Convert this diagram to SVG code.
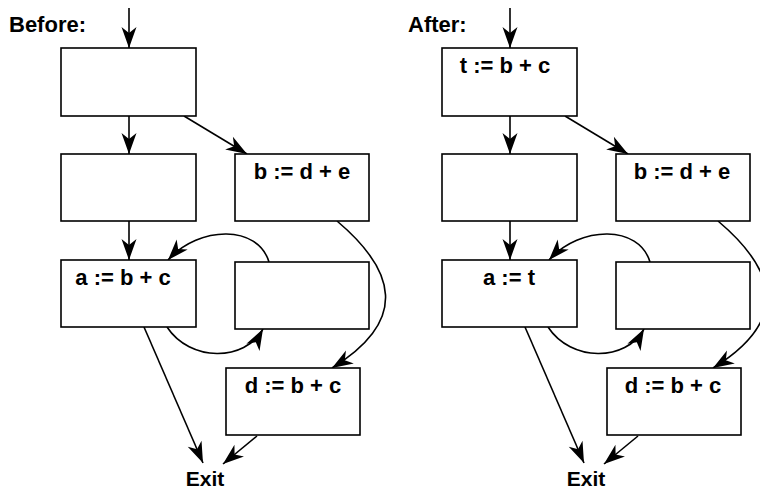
<svg xmlns="http://www.w3.org/2000/svg" width="760" height="490" viewBox="0 0 760 490">
<defs>
<marker id="ah" markerUnits="userSpaceOnUse" markerWidth="24" markerHeight="20" viewBox="-22 -10 24 20" refX="0" refY="0" orient="auto">
<path d="M0,0 L-21,-7.5 L-15,0 L-21,7.5 Z" fill="#000"/>
</marker>
<style>
.box{fill:#fff;stroke:#000;stroke-width:1.6}
.e{fill:none;stroke:#000;stroke-width:1.6;marker-end:url(#ah)}
.t{font-family:"Liberation Sans",Arial,sans-serif;font-weight:bold;font-size:22px;fill:#000}
.m{text-anchor:middle}
</style>
</defs>
<rect width="760" height="490" fill="#fff"/>
<text class="t" x="9" y="32">Before:</text>
<text class="t" x="408" y="32">After:</text>
<g id="connectors">
<path class="e" d="M129,8 L129,48"/>
<path class="e" d="M129,116 L129,154"/>
<path class="e" d="M184,116 L247,154"/>
<path class="e" d="M129,221 L129,260"/>
<path class="e" d="M269,262 C258,225 200,225 168,260"/>
<path class="e" d="M167,327 C190,362 245,362 263,329"/>
<path class="e" d="M337,221 C395,270 410,320 332,368"/>
<path class="e" d="M144,327 L203,463"/>
<path class="e" d="M257,436 L223,464"/>
<path class="e" d="M510,8 L510,48"/>
<path class="e" d="M510,116 L510,154"/>
<path class="e" d="M565,116 L628,154"/>
<path class="e" d="M510,221 L510,260"/>
<path class="e" d="M650,262 C639,225 581,225 549,260"/>
<path class="e" d="M548,327 C571,362 626,362 644,329"/>
<path class="e" d="M718,221 C776,270 791,320 713,368"/>
<path class="e" d="M525,327 L584,463"/>
<path class="e" d="M638,436 L604,464"/>
</g>
<g id="b1"><rect class="box" x="61" y="48" width="135" height="68"/></g>
<g id="b2"><rect class="box" x="61" y="154" width="135" height="67"/></g>
<g id="b3"><rect class="box" x="235" y="154" width="134" height="67"/><text class="t m" x="302" y="179">b := d + e</text></g>
<g id="b4"><rect class="box" x="61" y="260" width="135" height="67"/><text class="t m" x="123" y="285">a := b + c</text></g>
<g id="b5"><rect class="box" x="235" y="262" width="134" height="67"/></g>
<g id="b6"><rect class="box" x="226" y="368" width="134" height="67"/><text class="t m" x="293" y="393">d := b + c</text></g>
<g id="exit1"><text class="t m" x="205" y="486" style="font-size:21px">Exit</text></g>
<g id="a1"><rect class="box" x="442" y="48" width="135" height="68"/><text class="t m" x="505" y="73">t := b + c</text></g>
<g id="a2"><rect class="box" x="442" y="154" width="135" height="67"/></g>
<g id="a3"><rect class="box" x="616" y="154" width="134" height="67"/><text class="t m" x="682" y="179">b := d + e</text></g>
<g id="a4"><rect class="box" x="442" y="260" width="135" height="67"/><text class="t m" x="509" y="285">a := t</text></g>
<g id="a5"><rect class="box" x="616" y="262" width="134" height="67"/></g>
<g id="a6"><rect class="box" x="607" y="368" width="134" height="67"/><text class="t m" x="673" y="393">d := b + c</text></g>
<g id="exit2"><text class="t m" x="586" y="486" style="font-size:21px">Exit</text></g>
</svg>
